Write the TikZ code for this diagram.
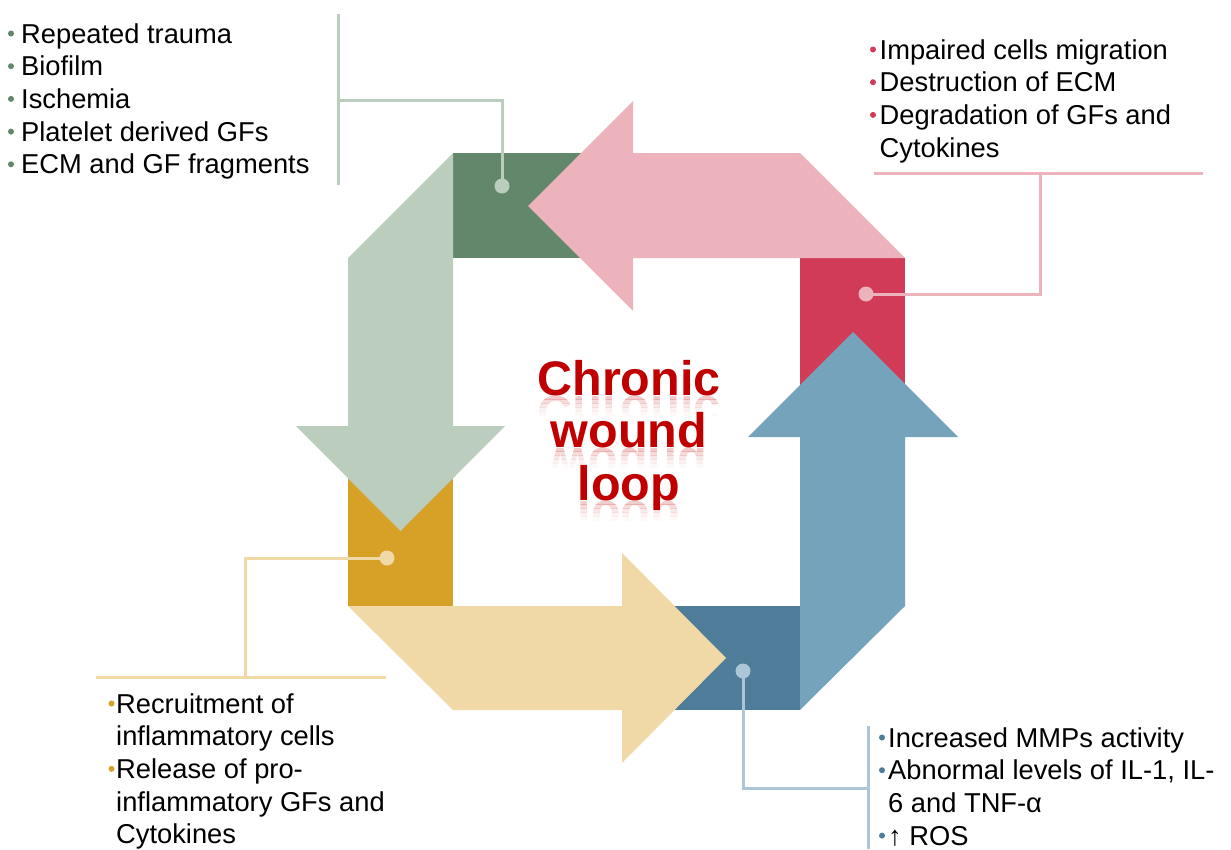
\documentclass[tikz,border=0pt]{standalone}
\usepackage{fontspec}
\setmainfont{Liberation Sans}
\definecolor{gDark}{HTML}{62876A}
\definecolor{gLight}{HTML}{BBCEBD}
\definecolor{pLight}{HTML}{EDB3BD}
\definecolor{rDark}{HTML}{D13B57}
\definecolor{bLight}{HTML}{76A3BC}
\definecolor{bDark}{HTML}{4E7C99}
\definecolor{bLine}{HTML}{ADC6D7}
\definecolor{yLight}{HTML}{F0D9A6}
\definecolor{yDark}{HTML}{D6A126}
\definecolor{titleRed}{HTML}{C00000}
\begin{document}
\begin{tikzpicture}[x=1pt,y=-1pt,
  item/.style={font=\fontsize{27.3}{32.7}\selectfont, anchor=base west, inner sep=0pt, text=black},
  bulletdot/.style={circle, fill=#1, inner sep=0pt, minimum size=6pt},
  calloutline/.style={line width=3pt, draw=#1},
  calloutdot/.style={circle, fill=#1, inner sep=0pt, minimum size=15pt},
  titlefont/.style={font=\fontsize{48.5}{53}\selectfont\bfseries, text=titleRed, inner sep=0pt, anchor=base},
  block/.style={fill=#1, draw=none},
  bigarrow/.style={fill=#1, draw=none}]
\useasboundingbox (0,0) rectangle (1231,849);

% corner blocks
\fill[block=gDark] (453,153) rectangle (633,258);
\fill[block=rDark] (800,258) rectangle (905,437);
\fill[block=bDark] (622,606) rectangle (800,710);
\fill[block=yDark] (348,426) rectangle (453,606);

% arrows
\fill[bigarrow=gLight] (453,153) -- (348,258) -- (348,426) -- (296,426) -- (400.5,531) -- (505,426) -- (453,426) -- cycle;
\fill[bigarrow=pLight] (905,258) -- (800,153) -- (633,153) -- (633,101) -- (528,206) -- (633,311) -- (633,258) -- cycle;
\fill[bigarrow=bLight] (800,710) -- (905,606) -- (905,437) -- (958,437) -- (853,332) -- (748,437) -- (800,437) -- cycle;
\fill[bigarrow=yLight] (348,606) -- (453,710) -- (622,710) -- (622,763) -- (726,658) -- (622,553) -- (622,606) -- cycle;

% callouts: coordinates
\coordinate (gbarT) at (338,14);
\coordinate (gbarB) at (338,185);
\coordinate (gbarM) at (338,100);
\coordinate (pbarL) at (874,173);
\coordinate (pbarR) at (1203,173);
\coordinate (pbarM) at (1040,173);
\coordinate (ybarL) at (96,677);
\coordinate (ybarR) at (386,677);
\coordinate (ybarM) at (245,677);
\coordinate (bbarT) at (868,726);
\coordinate (bbarB) at (868,849);
\coordinate (bbarM) at (868,788);

\node[calloutdot=gLight] (gdot) at (502,186) {};
\node[calloutdot=pLight] (pdot) at (866,294) {};
\node[calloutdot=yLight] (ydot) at (387,558) {};
\node[calloutdot=bLine] (bdot) at (743,671) {};

\draw[calloutline=gLight] (gbarT) -- (gbarB);
\draw[calloutline=gLight] (gdot.center) |- (gbarM);
\draw[calloutline=pLight] (pbarL) -- (pbarR);
\draw[calloutline=pLight] (pdot.center) -| (pbarM);
\draw[calloutline=yLight] (ybarL) -- (ybarR);
\draw[calloutline=yLight] (ydot.center) -| (ybarM);
\draw[calloutline=bLine] (bbarT) -- (bbarB);
\draw[calloutline=bLine] (bdot.center) |- (bbarM);

% green list
\node[bulletdot=gDark] (gb1) at (11,33.5) {};
\node[bulletdot=gDark] (gb2) at (11,66.2) {};
\node[bulletdot=gDark] (gb3) at (11,98.9) {};
\node[bulletdot=gDark] (gb4) at (11,131.6) {};
\node[bulletdot=gDark] (gb5) at (11,164.3) {};
\node[item] (g1) at (21,43) {Repeated trauma};
\node[item] (g2) at (21,75.7) {Biofilm};
\node[item] (g3) at (21,108.4) {Ischemia};
\node[item] (g4) at (21,141.1) {Platelet derived GFs};
\node[item] (g5) at (21,173.8) {ECM and GF fragments};

% pink list
\node[bulletdot=rDark] (pb1) at (873,49.5) {};
\node[bulletdot=rDark] (pb2) at (873,82.2) {};
\node[bulletdot=rDark] (pb3) at (873,114.9) {};
\node[item] (p1) at (879.5,59) {Impaired cells migration};
\node[item] (p2) at (879.5,91.7) {Destruction of ECM};
\node[item] (p3) at (879.5,124.4) {Degradation of GFs and};
\node[item] (p4) at (879.5,157.1) {Cytokines};

% yellow list
\node[bulletdot=yDark] (yb1) at (111.5,703.5) {};
\node[bulletdot=yDark] (yb3) at (111.5,768.9) {};
\node[item] (y1) at (116,713) {Recruitment of};
\node[item] (y2) at (116,745.7) {inflammatory cells};
\node[item] (y3) at (116,778.4) {Release of pro-};
\node[item] (y4) at (116,811.1) {inflammatory GFs and};
\node[item] (y5) at (116,843.8) {Cytokines};

% blue list
\node[bulletdot=bDark] (bb1) at (882,737.5) {};
\node[bulletdot=bDark] (bb2) at (882,770.2) {};
\node[bulletdot=bDark] (bb4) at (882,835.6) {};
\node[item] (b1) at (888,747) {Increased MMPs activity};
\node[item] (b2) at (888,779.7) {Abnormal levels of IL-1, IL-};
\node[item] (b3) at (888,812.4) {6 and TNF-α};
\node[item] (b4) at (888,845.1) {↑ ROS};

% title with soft reflection
\foreach \w/\yb/\nm in {Chronic/395/t1, wound/447/t2, loop/500/t3} {
  \node[titlefont] (\nm) at (629,\yb) {\w};
  \foreach \a/\b/\o [count=\k] in {0/4/0.2, 4/8/0.14, 8/12/0.09, 12/16/0.05, 16/20/0.025} {
    \begin{scope}
      \clip (500,\yb+\a) rectangle (760,\yb+\b);
      \begin{scope}[shift={(629,\yb+1)}]
        \node[titlefont, transform shape, yscale=-1, opacity=\o] (\nm r\k) at (0,0) {\w};
      \end{scope}
    \end{scope}
  }
}
\end{tikzpicture}
\end{document}
